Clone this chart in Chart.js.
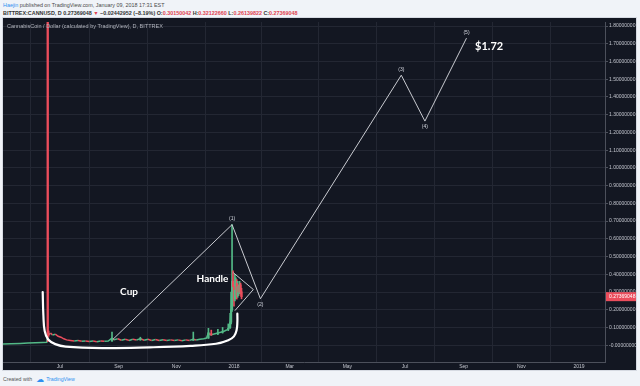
<!DOCTYPE html>
<html>
<head>
<meta charset="utf-8">
<script src="https://cdn.jsdelivr.net/npm/chart.js@4.4.1/dist/chart.umd.min.js"></script>
<style>
  body { margin: 0; width: 640px; height: 386px; overflow: hidden; position: relative; background: #f0f3f8; font-family: Arial, "Liberation Sans", sans-serif; }
  .head { position: absolute; left: 3px; white-space: nowrap; font-size: 5.4px; color: #4a4a4a; }
  #line1 { top: 2px; }
  #line2 { top: 10px; font-weight: bold; color: #333; }
  .blue { color: #2e8ff0; }
  .red { color: #e0424f; }
  #panel { position: absolute; left: 3px; top: 18px; width: 633px; height: 352px; background: #131722; box-shadow: 0 0 0 1px #d6dae2; }
  #title { position: absolute; left: 4px; top: 5px; font-size: 5.5px; color: #b2b5be; white-space: nowrap; }
  #foot { position: absolute; left: 3px; top: 375px; font-size: 5.2px; color: #555; white-space: nowrap; }
  #foot .logo { font-family: "DejaVu Sans"; font-size: 8px; color: #2e8ff0; margin: 0 2px 0 4px; vertical-align: -1px; }
</style>
</head>
<body>
<div class="head" id="line1"><span class="blue">Haejin</span> published on TradingView.com, January 09, 2018 17:31 EST</div>
<div class="head" id="line2">BITTREX:CANNUSD, D 0.27369048 <span class="red">▼</span> −0.02442952 (−8.19%) O:<span class="red">0.30150042</span> H:<span class="red">0.32122660</span> L:<span class="red">0.26139822</span> C:<span class="red">0.27369048</span></div>
<div id="panel">
  <canvas id="chart" width="633" height="352"></canvas>
  <div id="title">CannabisCoin / Dollar (calculated by TradingView), D, BITTREX</div>
</div>
<div id="foot">Created with<span class="logo">☁</span><span class="blue">TradingView</span></div>
<script>
// daily closes
const closeDates = ["2017-05-01","2017-05-10","2017-05-20","2017-05-28","2017-06-05","2017-06-12","2017-06-17",
  "2017-06-18","2017-06-19","2017-06-21","2017-06-23","2017-06-26","2017-06-29","2017-07-02","2017-07-05","2017-07-08",
  "2017-07-12","2017-07-16","2017-07-20","2017-07-24","2017-07-28","2017-08-01","2017-08-05","2017-08-09","2017-08-13",
  "2017-08-17","2017-08-21","2017-08-25","2017-08-27","2017-08-31","2017-09-04","2017-09-08","2017-09-12","2017-09-16",
  "2017-09-20","2017-09-24","2017-09-28","2017-10-02","2017-10-06","2017-10-10","2017-10-14","2017-10-18","2017-10-22",
  "2017-10-26","2017-10-30","2017-11-03","2017-11-07","2017-11-11","2017-11-15","2017-11-19","2017-11-22","2017-11-26",
  "2017-11-30","2017-12-03","2017-12-05","2017-12-07","2017-12-10","2017-12-13","2017-12-16","2017-12-19","2017-12-22",
  "2017-12-25","2017-12-27","2017-12-28","2017-12-29","2017-12-30","2017-12-31","2018-01-01","2018-01-02","2018-01-03",
  "2018-01-04","2018-01-05","2018-01-06","2018-01-07","2018-01-08","2018-01-09"];
const closeValues = [0.007,0.008,0.01,0.012,0.014,0.015,0.016,
  0.065,0.06,0.068,0.058,0.062,0.05,0.045,0.036,0.03,
  0.027,0.024,0.026,0.022,0.024,0.021,0.023,0.02,0.024,
  0.022,0.023,0.04,0.03,0.036,0.028,0.034,0.027,0.033,
  0.029,0.037,0.028,0.033,0.027,0.032,0.026,0.031,0.027,
  0.03,0.026,0.03,0.025,0.03,0.027,0.034,0.029,0.033,
  0.036,0.04,0.07,0.058,0.062,0.066,0.07,0.074,0.08,
  0.088,0.1,0.13,0.2,0.36,0.33,0.26,0.31,0.35,
  0.28,0.33,0.30,0.34,0.3015,0.2737];

// candles worth drawing with a wick
const candleDates = ["2017-06-18","2017-06-19","2017-08-25","2017-09-24","2017-11-19","2017-12-05","2017-12-08","2017-12-15",
  "2017-12-20","2017-12-26","2017-12-28","2017-12-29","2017-12-30","2017-12-31","2018-01-01","2018-01-02",
  "2018-01-03","2018-01-04","2018-01-05","2018-01-06","2018-01-07","2018-01-08","2018-01-09"];
const candleOpen  = [1.9,0.065,0.023,0.03,0.028,0.04,0.065,0.066,0.074,0.088,0.1,0.13,0.2,0.36,0.33,0.26,0.31,0.35,0.28,0.33,0.30,0.34,0.30150042];
const candleHigh  = [2.9,0.08,0.074,0.045,0.074,0.095,0.085,0.09,0.1,0.12,0.18,0.3,0.68,0.42,0.35,0.40,0.38,0.37,0.36,0.34,0.36,0.35,0.3212266];
const candleLow   = [0.02,0.05,0.022,0.028,0.027,0.038,0.055,0.06,0.068,0.082,0.095,0.12,0.19,0.25,0.22,0.25,0.27,0.26,0.27,0.28,0.29,0.29,0.26139822];
const candleClose = [0.065,0.06,0.04,0.037,0.034,0.07,0.06,0.07,0.078,0.095,0.13,0.2,0.36,0.33,0.26,0.31,0.35,0.28,0.33,0.30,0.34,0.3015,0.27369048];
const lastPrice = 0.27369048;

// Elliott wave count
const waveDates  = ["2017-08-26","2017-12-30","2018-01-29","2018-06-27","2018-07-22","2018-09-04"];
const waveValues = [0.033, 0.68, 0.262, 1.523, 1.264, 1.732];
const waveLabels = ["", "(1)", "(2)", "(3)", "(4)", "(5)"];

// hand drawings, x in days after 2017-07-01
const cupDays   = [-18.3,-17.6,-16.2,-12.5,-5,6,45,95,138,165,178,184,186.8,187.6,187.6];
const cupValues = [0.30,0.17,0.08,0.032,0.006,-0.008,-0.016,-0.012,-0.004,0.008,0.028,0.05,0.085,0.13,0.178];
const wedgeTopDays = [183.3, 204.5];
const wedgeTopValues = [0.409, 0.314];
const wedgeBottomDays = [185, 204.5];
const wedgeBottomValues = [0.195, 0.314];

const notes = [
  { text: "Cup", day: 73, value: 0.302 },
  { text: "Handle", day: 161.3, value: 0.375 },
  { text: "$1.72", day: 439, value: 1.687 }
];

const xTickDates = ["2017-07-01","2017-09-01","2017-11-01","2018-01-01","2018-03-01","2018-05-01","2018-07-01","2018-09-01","2018-11-01","2019-01-01"];
const xTickLabels = ["Jul","Sep","Nov","2018","Mar","May","Jul","Sep","Nov","2019"];
const yTicks = [0,0.1,0.2,0.3,0.4,0.5,0.6,0.7,0.8,0.9,1.0,1.1,1.2,1.3,1.4,1.5,1.6,1.7,1.8];

const UP = "#53b987";
const DOWN = "#eb4d5c";

function toDay(s) {
  return (Date.parse(s + "T00:00:00Z") - Date.parse("2017-07-01T00:00:00Z")) / 864e5;
}
const pts = (xs, ys) => xs.map((x, i) => ({ x: x, y: ys[i] }));

const notesPlugin = {
  id: "notes",
  afterDatasetsDraw(chart) {
    const { ctx, scales: { x, y } } = chart;
    ctx.save();
    ctx.textAlign = "center";
    ctx.textBaseline = "middle";
    ctx.fillStyle = "#d1d4dc";
    ctx.font = "5px Arial";
    waveLabels.forEach((t, i) => {
      if (!t) return;
      const px = x.getPixelForValue(toDay(waveDates[i]));
      const py = y.getPixelForValue(waveValues[i]);
      const below = i > 0 && waveValues[i] < waveValues[i - 1];
      ctx.fillText(t, px, below ? py + 6 : py - 6);
    });
    ctx.fillStyle = "#ffffff";
    notes.forEach(n => {
      const big = n.text === "$1.72";
      ctx.font = big ? "bold 11px Lato" : "bold 10px Lato";
      ctx.textAlign = big ? "left" : "center";
      ctx.fillText(n.text, x.getPixelForValue(n.day), y.getPixelForValue(n.value));
    });
    ctx.restore();
  },
  afterDraw(chart) {
    const { ctx, chartArea, scales: { y } } = chart;
    const py = y.getPixelForValue(lastPrice);
    ctx.save();
    ctx.fillStyle = DOWN;
    ctx.fillRect(chartArea.right + 1, py - 4.5, 30, 9);
    ctx.fillStyle = "#ffffff";
    ctx.font = "5px Arial";
    ctx.textBaseline = "middle";
    ctx.fillText(lastPrice.toFixed(8), chartArea.right + 4, py);
    ctx.restore();
  }
};

new Chart(document.getElementById("chart"), {
  type: "line",
  data: {
    datasets: [
      {
        data: pts(closeDates.map(toDay), closeValues),
        borderWidth: 1.5,
        pointRadius: 0,
        segment: { borderColor: c => c.p1.parsed.y >= c.p0.parsed.y ? UP : DOWN },
        order: 3
      },
      {
        type: "bar",
        data: candleDates.map((d, i) => ({ x: toDay(d), y: [candleLow[i], candleHigh[i]] })),
        backgroundColor: candleDates.map((d, i) => candleClose[i] >= candleOpen[i] ? UP : DOWN),
        barThickness: 1,
        grouped: false,
        order: 2
      },
      {
        type: "bar",
        data: candleDates.map((d, i) => ({ x: toDay(d), y: [candleOpen[i], candleClose[i]] })),
        backgroundColor: candleDates.map((d, i) => candleClose[i] >= candleOpen[i] ? UP : DOWN),
        barThickness: 1.5,
        grouped: false,
        order: 1
      },
      {
        data: pts(waveDates.map(toDay), waveValues),
        borderColor: "#c9cbd1",
        borderWidth: 1,
        pointRadius: 0,
        order: 0
      },
      {
        data: pts(wedgeTopDays, wedgeTopValues),
        borderColor: "#c9cbd1",
        borderWidth: 1,
        pointRadius: 0,
        order: 0
      },
      {
        data: pts(wedgeBottomDays, wedgeBottomValues),
        borderColor: "#c9cbd1",
        borderWidth: 1,
        pointRadius: 0,
        order: 0
      },
      {
        data: pts(cupDays, cupValues),
        borderColor: "#ffffff",
        borderWidth: 2.2,
        pointRadius: 0,
        tension: 0.4,
        borderCapStyle: "round",
        order: 0
      }
    ]
  },
  options: {
    responsive: false,
    animation: false,
    events: [],
    layout: { padding: 0 },
    plugins: { legend: { display: false }, tooltip: { enabled: false } },
    scales: {
      x: {
        type: "linear",
        min: -60.3,
        max: 576.5,
        offset: false,
        grid: { color: "#232733", drawTicks: false },
        border: { color: "#4c505b" },
        afterBuildTicks: s => { s.ticks = xTickDates.map(d => ({ value: toDay(d) })); },
        afterFit: s => { s.height = 8; },
        ticks: {
          color: "#c3c6ce",
          font: { size: 5, family: "Arial" },
          padding: 2,
          maxRotation: 0,
          autoSkip: false,
          callback: (v, i) => xTickLabels[i]
        }
      },
      y: {
        position: "right",
        min: -0.0948,
        max: 1.823,
        grid: { color: "#232733", tickLength: 3, tickColor: "#4c505b" },
        border: { color: "#4c505b" },
        afterBuildTicks: s => { s.ticks = yTicks.map(v => ({ value: v })); },
        afterFit: s => { s.width = 31; },
        ticks: {
          color: "#c3c6ce",
          font: { size: 5, family: "Arial" },
          padding: 1,
          callback: v => v === 0 ? "-0.00000000" : v.toFixed(8)
        }
      }
    }
  },
  plugins: [notesPlugin]
});
</script>
</body>
</html>
